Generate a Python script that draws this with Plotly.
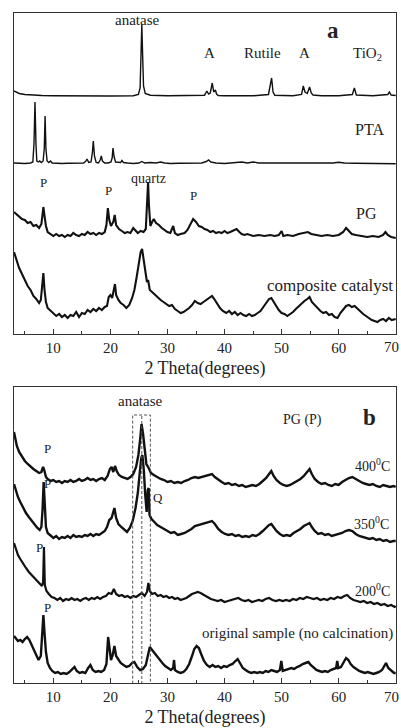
import plotly.graph_objects as go

# ---------------- Panel a data (2θ in degrees, intensity in a.u.) ----------------
tio2_x = [3.1, 3.5, 4, 5, 6, 8, 10, 15, 20, 24, 24.9, 25.2, 25.35, 25.5, 25.65, 25.8, 26.1, 27, 30, 35,
          36.5, 36.9, 37.2, 37.5, 37.85, 38.1, 38.4, 38.6, 38.9, 40, 45, 47.7, 48.0, 48.25, 48.5, 48.8,
          52, 53.5, 53.8, 54.1, 54.5, 54.9, 55.2, 55.5, 57, 60, 62.4, 62.75, 63.1, 66, 68.6, 68.9, 69.2, 70]
tio2_y = [5, 3.5, 2.5, 1.5, 1, 0.5, 0.3, 0, 0, 0.3, 1.5, 8, 40, 71, 40, 10, 2.5, 0.8, 0.3, 0.3,
          0.8, 5, 2, 3, 13, 4, 6, 2, 0.5, 0.2, 0.2, 1.5, 10, 18, 4, 0.8,
          0.3, 1.5, 10, 4, 2.5, 9, 3, 1, 0.3, 0.3, 1.5, 8, 1, 0.3, 1.5, 4, 1, 0.5]

pta_x = [3.1, 4, 5, 6, 6.4, 6.6, 6.78, 6.95, 7.1, 7.4, 7.6, 7.9, 8.2, 8.4, 8.55, 8.7, 8.9, 9.2, 9.5, 9.8,
         10.5, 11.5, 12.5, 13.5, 14.5, 15.3, 15.7, 15.9, 16.2, 16.6, 16.85, 17.0, 17.2, 17.5, 17.9, 18.2,
         18.4, 18.6, 19.0, 19.6, 20.1, 20.3, 20.45, 20.65, 20.9, 21.4, 21.8, 22.0, 22.3, 23, 24, 25, 25.5,
         26, 26.5, 27, 28, 28.8, 29.5, 30.5, 32, 34, 36, 36.8, 37.2, 37.6, 38.5, 40, 42, 43, 44, 45, 46,
         48, 50, 51, 53, 55, 57, 59, 60, 61, 63, 65, 67, 70]
pta_y = [1, 0.5, 0.5, 1, 2, 20, 62, 20, 3, 2, 3, 1.5, 3, 15, 48, 15, 3, 1.5, 3, 1,
         0.5, 0.5, 0.8, 1, 1.5, 1, 3, 5, 1.5, 2, 12, 23, 8, 1.5, 1, 4,
         8, 3, 1, 1, 2, 6, 16, 7, 2, 2, 1.5, 3.5, 1.5, 1, 0.5, 1, 2.5,
         1, 1.5, 1.5, 1, 2, 1, 0.5, 0.8, 1, 1, 2.5, 4, 2, 1, 0.5, 1, 2, 1, 2, 1,
         1, 1.5, 0.8, 1.5, 1.5, 1.5, 1, 1.8, 1, 0.8, 0.5, 0.5, 0.3]

pg_x = [3.1, 3.5, 4, 4.5, 5, 5.5, 6, 6.5, 7, 7.5, 7.9, 8.1, 8.25, 8.4, 8.7, 9.0, 9.5, 10, 10.5, 11, 11.5,
        12, 12.5, 13, 13.5, 14, 14.5, 15, 15.5, 16, 16.5, 17, 17.5, 18, 18.5, 19, 19.3, 19.55, 19.8, 20.1,
        20.5, 20.75, 21.0, 21.5, 22, 22.5, 23, 23.5, 24.0, 24.3, 24.8, 25.3, 25.8, 26.2, 26.45, 26.6, 26.75,
        27.0, 27.3, 27.6, 28.0, 28.5, 29, 29.5, 30, 30.5, 31.0, 31.3, 31.8, 32.3, 33, 33.5, 34, 34.5, 35,
        35.5, 36, 36.5, 37, 37.5, 38, 38.5, 39, 39.5, 40, 40.5, 41, 41.6, 42.1, 42.6, 43, 43.5, 44, 45, 46,
        47, 48, 48.8, 49.5, 50.0, 50.3, 51, 52, 53, 54, 54.6, 55.2, 56, 57, 58, 59, 60, 60.8, 61.3, 61.8,
        62.3, 63, 64, 65, 66, 67, 67.8, 68.2, 68.6, 69.2, 70]
pg_y = [28, 26, 24, 21, 20, 17, 18, 14, 15, 12, 16, 26, 33, 26, 14, 8, 6, 4, 6, 4, 5,
        3, 5, 4, 7, 5, 4, 6, 5, 8, 6, 7, 5, 7, 6, 8, 15, 32, 20, 14,
        18, 25, 15, 11, 9, 7, 8, 7, 12, 10, 7, 9, 8, 11, 40, 58, 35,
        14, 18, 21, 17, 15, 12, 10, 8, 7, 14, 7, 5, 6, 7, 10, 15, 21, 18,
        14, 13, 11, 10, 8, 9, 7, 8, 7, 9, 7, 8, 10, 11, 8, 6, 5, 6, 4, 5,
        4, 5, 4, 5, 9, 4, 5, 4, 6, 7, 8, 6, 5, 4, 5, 4, 5, 8, 12, 9,
        6, 5, 4, 3, 4, 3, 5, 8, 5, 3, 2]

cat_x = [3.1, 3.4, 3.7, 4, 4.5, 5, 5.5, 6, 6.5, 7, 7.5, 7.8, 8.05, 8.25, 8.45, 8.7, 9, 9.5, 10, 10.5, 11,
         11.5, 12, 12.5, 13, 13.5, 14, 14.5, 15, 15.5, 16, 16.5, 17, 17.5, 18, 18.5, 19, 19.4, 19.7, 20.0,
         20.3, 20.6, 20.8, 21.0, 21.4, 21.8, 22.3, 22.8, 23.3, 23.8, 24.2, 24.6, 25.0, 25.3, 25.55, 25.8,
         26.1, 26.4, 26.6, 26.9, 27.3, 27.8, 28.3, 28.8, 29.3, 29.8, 30.3, 30.8, 31.3, 31.8, 32.3, 32.8,
         33.3, 33.8, 34.3, 34.8, 35.3, 35.8, 36.3, 36.8, 37.3, 37.8, 38.2, 38.7, 39.2, 39.7, 40.3, 40.8,
         41.3, 41.8, 42.3, 42.8, 43.3, 43.8, 44.3, 44.8, 45.3, 45.8, 46.3, 46.8, 47.3, 47.8, 48.2, 48.6,
         49.0, 49.5, 50.0, 50.5, 51.0, 51.5, 52.0, 52.5, 53.0, 53.5, 54.0, 54.5, 54.9, 55.3, 55.8, 56.3,
         56.8, 57.3, 57.8, 58.3, 58.8, 59.3, 59.8, 60.3, 60.8, 61.3, 61.8, 62.3, 62.8, 63.3, 63.8, 64.3,
         64.8, 65.3, 65.8, 66.3, 66.8, 67.3, 67.8, 68.3, 68.8, 69.3, 70]
cat_y = [73, 67, 61, 57, 51, 45, 39, 35, 29, 26, 22, 25, 37, 52, 35, 23, 17, 14, 11, 9, 11,
         8, 10, 7, 10, 9, 13, 8, 12, 11, 15, 13, 16, 14, 17, 15, 18, 19, 28, 30,
         27, 35, 41, 30, 25, 22, 20, 17, 20, 27, 35, 48, 63, 73, 76, 67,
         53, 43, 45, 35, 33, 30, 28, 25, 23, 21, 19, 20, 16, 14, 12, 13,
         15, 17, 20, 24, 22, 21, 23, 25, 27, 29, 26, 21, 17, 14, 12, 14,
         11, 13, 10, 12, 10, 9, 11, 9, 10, 12, 14, 18, 22, 26, 27, 23,
         19, 15, 12, 11, 9, 11, 13, 16, 19, 22, 24, 26, 28, 23, 20, 16,
         14, 12, 13, 10, 11, 8, 7, 12, 16, 19, 20, 18, 19, 16, 14, 11,
         9, 7, 5, 4, 3, 5, 6, 4, 7, 5, 6]

# ---------------- Panel b data ----------------
t400_x = [3.1, 3.3, 3.6, 4, 4.5, 5, 5.5, 6, 6.5, 7, 7.5, 7.9, 8.2, 8.4, 8.7, 9, 9.5, 10, 10.5, 11, 11.5,
          12, 12.5, 13, 13.5, 14, 14.5, 15, 15.5, 16, 16.5, 17, 17.5, 18, 18.5, 19, 19.5, 19.9, 20.2, 20.5,
          20.8, 21.1, 21.5, 22, 22.5, 23, 23.5, 24, 24.5, 24.9, 25.2, 25.45, 25.7, 26.0, 26.3, 26.7, 27.1,
          27.6, 28.2, 28.8, 29.4, 30, 30.6, 31.2, 31.8, 32.4, 33, 33.6, 34.2, 34.8, 35.4, 36, 36.6, 37.2,
          37.8, 38.3, 38.9, 39.5, 40.1, 40.7, 41.3, 41.9, 42.5, 43.1, 43.7, 44.3, 44.9, 45.5, 46.1, 46.7,
          47.3, 47.8, 48.2, 48.6, 49.1, 49.7, 50.3, 50.9, 51.5, 52.1, 52.7, 53.3, 53.9, 54.5, 54.9, 55.3,
          55.8, 56.4, 57, 57.6, 58.2, 58.8, 59.4, 60, 60.6, 61.2, 61.8, 62.4, 63, 63.6, 64.2, 64.8, 65.4,
          66, 66.6, 67.2, 67.8, 68.4, 69, 69.6, 70]
t400_y = [58, 52, 44, 38, 33, 29, 26, 23, 21, 19, 17, 18, 23, 20, 13, 11, 9, 10, 8, 9, 7,
          9, 8, 10, 8, 9, 11, 9, 10, 12, 10, 11, 9, 11, 12, 10, 14, 21, 23, 18,
          24, 19, 15, 13, 12, 11, 13, 16, 23, 35, 50, 66, 57, 38, 26, 22, 17,
          15, 13, 11, 10, 8, 9, 7, 8, 7, 9, 10, 12, 13, 12, 13, 14, 15,
          16, 13, 10, 8, 6, 7, 5, 6, 4, 5, 3, 4, 5, 4, 6, 9,
          12, 16, 19, 14, 10, 7, 5, 4, 5, 7, 9, 11, 14, 18, 21, 16,
          11, 8, 6, 7, 5, 4, 6, 5, 8, 10, 12, 13, 11, 9, 7, 6, 5,
          6, 4, 3, 5, 4, 3, 4, 3]

t350_x = [3.1, 3.4, 3.8, 4.2, 4.7, 5.2, 5.7, 6.2, 6.7, 7.2, 7.6, 7.9, 8.1, 8.3, 8.5, 8.7, 9, 9.5, 10, 10.5,
          11, 11.5, 12, 12.5, 13, 13.5, 14, 14.5, 15, 15.5, 16, 16.5, 17, 17.5, 18, 18.5, 19, 19.4, 19.8,
          20.2, 20.5, 20.7, 21.0, 21.4, 21.9, 22.4, 22.9, 23.4, 23.9, 24.4, 24.8, 25.1, 25.4, 25.6, 25.85,
          26.1, 26.35, 26.55, 26.7, 26.85, 27.2, 27.7, 28.2, 28.8, 29.4, 30, 30.6, 31.2, 31.8, 32.4, 33,
          33.6, 34.2, 34.8, 35.4, 36, 36.6, 37.2, 37.8, 38.3, 38.9, 39.5, 40.1, 40.7, 41.3, 41.9, 42.5,
          43.1, 43.7, 44.3, 44.9, 45.5, 46.1, 46.7, 47.3, 47.8, 48.2, 48.6, 49.1, 49.7, 50.3, 50.9, 51.5,
          52.1, 52.7, 53.3, 53.9, 54.5, 54.9, 55.3, 55.8, 56.4, 57, 57.6, 58.2, 58.8, 59.4, 60, 60.6, 61.2,
          61.8, 62.4, 63, 63.6, 64.2, 64.8, 65.4, 66, 66.6, 67.2, 67.8, 68.4, 69, 69.6, 70]
t350_y = [61, 55, 48, 43, 37, 32, 28, 24, 20, 17, 15, 18, 35, 63, 40, 18, 12, 9, 7, 9,
          6, 8, 7, 9, 7, 10, 8, 9, 8, 10, 9, 11, 9, 11, 10, 12, 14, 18, 25,
          27, 33, 37, 27, 21, 18, 15, 13, 17, 24, 37, 52, 70, 87, 90, 75,
          50, 33, 55, 57, 30, 26, 23, 20, 18, 16, 14, 12, 13, 10, 11, 12,
          14, 16, 19, 20, 21, 22, 23, 24, 21, 16, 13, 11, 10, 11, 9, 10,
          8, 9, 8, 10, 9, 11, 14, 17, 20, 21, 18, 14, 11, 9, 10, 9,
          12, 14, 16, 19, 21, 22, 18, 14, 11, 12, 10, 11, 9, 10, 11, 12, 14,
          15, 14, 11, 9, 8, 7, 6, 7, 5, 6, 4, 5, 3, 4, 4]

t200_x = [3.1, 3.4, 3.8, 4.2, 4.7, 5.2, 5.7, 6.2, 6.7, 7.2, 7.6, 8.0, 8.2, 8.35, 8.5, 8.8, 9.2, 9.7, 10.2,
          10.7, 11.2, 11.7, 12.2, 12.7, 13.2, 13.7, 14.2, 14.7, 15.2, 15.7, 16.2, 16.7, 17.2, 17.7, 18.2,
          18.7, 19.2, 19.7, 20.2, 20.6, 21.0, 21.5, 22, 22.5, 23, 23.5, 24, 24.5, 25, 25.5, 26, 26.4, 26.65,
          26.9, 27.3, 27.8, 28.3, 28.8, 29.3, 29.8, 30.3, 30.8, 31.3, 31.8, 32.3, 32.8, 33.3, 33.8, 34.3,
          34.8, 35.3, 35.8, 36.4, 37, 37.6, 38.2, 38.8, 39.4, 40, 40.6, 41.2, 41.8, 42.4, 43, 43.6, 44.2,
          44.8, 45.4, 46, 46.6, 47.2, 47.8, 48.4, 49, 49.6, 50.2, 50.8, 51.4, 52, 52.6, 53.2, 53.8, 54.4,
          55, 55.6, 56.2, 56.8, 57.4, 58, 58.6, 59.2, 59.8, 60.4, 61, 61.5, 62, 62.6, 63.2, 63.8, 64.4, 65,
          65.6, 66.2, 66.8, 67.4, 68, 68.6, 69.2, 69.8, 70]
t200_y = [67, 61, 55, 51, 46, 42, 38, 35, 32, 29, 26, 24, 28, 63, 25, 19, 16, 13, 12,
          10, 12, 9, 11, 10, 12, 10, 11, 9, 11, 12, 10, 12, 11, 13, 11,
          13, 14, 17, 16, 21, 16, 14, 15, 13, 14, 12, 14, 13, 15, 17, 14, 18, 27,
          19, 16, 17, 14, 15, 13, 14, 12, 13, 11, 12, 10, 11, 12, 14, 16,
          17, 18, 17, 15, 13, 11, 10, 9, 10, 8, 9, 10, 11, 12, 10, 9, 10,
          8, 9, 10, 9, 11, 12, 10, 9, 10, 9, 10, 9, 11, 10, 12, 11, 13,
          12, 11, 12, 10, 11, 10, 12, 11, 13, 12, 14, 15, 12, 10, 9, 8, 9, 7,
          8, 6, 7, 5, 6, 4, 5, 3, 4]

orig_x = [3.1, 3.4, 3.8, 4.2, 4.6, 5.0, 5.4, 5.8, 6.2, 6.6, 7.0, 7.4, 7.8, 8.05, 8.25, 8.45, 8.7, 9.0, 9.4,
          9.8, 10.3, 10.8, 11.3, 11.8, 12.3, 12.8, 13.3, 13.7, 14.1, 14.6, 15.1, 15.6, 16.1, 16.5, 16.9,
          17.4, 17.9, 18.4, 18.9, 19.3, 19.6, 19.85, 20.1, 20.4, 20.7, 21.0, 21.4, 21.8, 22.3, 22.8, 23.3,
          23.8, 24.2, 24.7, 25.2, 25.7, 26.2, 26.6, 26.9, 27.3, 27.7, 28.1, 28.6, 29.1, 29.6, 30.1, 30.6,
          31.0, 31.15, 31.3, 31.8, 32.3, 32.8, 33.3, 33.8, 34.3, 34.7, 35.1, 35.5, 35.9, 36.4, 36.9, 37.4,
          37.9, 38.4, 38.9, 39.4, 39.9, 40.4, 40.9, 41.4, 41.9, 42.3, 42.7, 43.2, 43.7, 44.2, 44.7, 45.2,
          45.7, 46.2, 46.7, 47.2, 47.7, 48.2, 48.7, 49.2, 49.7, 49.95, 50.2, 50.7, 51.2, 51.7, 52.2, 52.7,
          53.2, 53.7, 54.2, 54.7, 55.1, 55.6, 56.1, 56.6, 57.1, 57.6, 58.1, 58.6, 59.1, 59.55, 59.75, 59.95,
          60.4, 60.9, 61.3, 61.7, 62.1, 62.6, 63.1, 63.6, 64.1, 64.6, 65.1, 65.6, 66.1, 66.6, 67.1, 67.6,
          68.0, 68.3, 68.7, 69.2, 69.7, 70]
orig_y = [42, 40, 37, 38, 36, 39, 41, 38, 33, 28, 23, 18, 22, 40, 63, 45, 26, 15, 10,
          7, 5, 6, 4, 5, 4, 6, 9, 11, 7, 5, 6, 5, 10, 13, 8,
          6, 7, 6, 8, 14, 41, 28, 18, 23, 32, 22, 18, 15, 13, 11, 12,
          15, 16, 11, 8, 9, 13, 23, 31, 28, 25, 23, 19, 15, 12, 10, 8,
          10, 18, 8, 6, 5, 6, 9, 14, 22, 29, 32, 30, 24, 17, 13, 11,
          13, 11, 12, 10, 12, 11, 13, 14, 17, 19, 15, 10, 8, 6, 5, 6,
          5, 6, 5, 7, 6, 8, 7, 6, 8, 17, 7, 8, 9, 10, 9, 11,
          12, 14, 15, 16, 13, 10, 8, 7, 6, 7, 6, 8, 9, 10, 17, 10,
          11, 16, 20, 18, 14, 11, 9, 7, 6, 5, 6, 5, 4, 5, 6, 8,
          12, 15, 10, 7, 5, 5]

tick_vals = [10, 20, 30, 40, 50, 60, 70]
tick_text = ["10", "20", "30", "40", "50", "60", ""]   # "70" sits at the page edge, drawn below
minor_vals = [5, 15, 25, 35, 45, 55, 65]

# stacking baselines (a.u.) and widths
a_series = [("TiO2", tio2_x, tio2_y, 238, 1.4), ("PTA", pta_x, pta_y, 170, 1.4),
            ("PG", pg_x, pg_y, 94, 2.1), ("composite catalyst", cat_x, cat_y, 9, 2.1)]
b_series = [("400", t400_x, t400_y, 193, 2.4), ("350", t350_x, t350_y, 138, 2.4),
            ("200", t200_x, t200_y, 73, 2.2), ("original", orig_x, orig_y, 5, 2.4)]

fig = go.Figure()
for name, xs, ys, off, w in a_series:
    fig.add_trace(go.Scatter(x=xs, y=[v + off for v in ys], mode="lines", name=name,
                             line=dict(color="#111111", width=w), xaxis="x", yaxis="y"))
for name, xs, ys, off, w in b_series:
    fig.add_trace(go.Scatter(x=xs, y=[v + off for v in ys], mode="lines", name=name,
                             line=dict(color="#111111", width=w), xaxis="x2", yaxis="y2"))

FONT = "Liberation Serif, Times New Roman, serif"
TXT = "#222222"
xcommon = dict(range=[3.1, 70.05], tickmode="array", tickvals=tick_vals, ticktext=tick_text,
               ticks="inside", ticklen=5, tickcolor="#333", showline=True, mirror=True,
               linecolor="#333", linewidth=1.3, showgrid=False, zeroline=False,
               tickfont=dict(family=FONT, size=15, color=TXT),
               minor=dict(tickvals=minor_vals, ticks="inside", ticklen=3, tickcolor="#333"),
               title=dict(text="2 Theta(degrees)", font=dict(family=FONT, size=18, color=TXT),
                          standoff=6))
ycommon = dict(showticklabels=False, ticks="", showline=True, mirror=True, linecolor="#333",
               linewidth=1.3, showgrid=False, zeroline=False)

fig.update_layout(
    width=401, height=728, margin=dict(l=0, r=0, t=0, b=0),
    paper_bgcolor="white", plot_bgcolor="white", showlegend=False, hovermode=False,
    xaxis=dict(domain=[14/401, 396/401], anchor="y", **xcommon),
    yaxis=dict(domain=[1-334/728, 1-13/728], range=[0, 321], anchor="x", **ycommon),
    xaxis2=dict(domain=[14/401, 396/401], anchor="y2", **xcommon),
    yaxis2=dict(domain=[1-683/728, 1-387/728], range=[0, 296], anchor="x2", **ycommon),
)

def ann(text, x, y, ax="x", ay="y", size=14, bold=False, xanchor="center"):
    fig.add_annotation(text=("<b>%s</b>" % text) if bold else text, x=x, y=y, xref=ax, yref=ay,
                       showarrow=False, xanchor=xanchor, yanchor="middle",
                       font=dict(family=FONT, size=size, color=TXT))

# "70" tick labels at the right page edge
ann("70", 1.0, 1 - 347/728, "paper", "paper", size=15, xanchor="right")
ann("70", 1.0, 1 - 697/728, "paper", "paper", size=15, xanchor="right")

# panel a labels
ann("anatase", 24.6, 314, size=15)
ann("A", 37.4, 281, size=15)
ann("Rutile", 46.7, 281, size=15)
ann("A", 54.1, 281, size=15)
ann("TiO<sub>2</sub>", 65.0, 280, size=15)
ann("a", 59.0, 304, size=23, bold=True)
ann("PTA", 65.4, 205, size=16)
ann("P", 8.2, 152, size=13)
ann("P", 19.6, 144, size=13)
ann("quartz", 26.6, 156, size=14)
ann("P", 34.5, 139, size=13)
ann("PG", 64.9, 121, size=16)
ann("composite catalyst", 58.4, 49, size=17)

# panel b labels
ann("anatase", 25.2, 282, "x2", "y2", size=15)
ann("PG (P)", 53.7, 263, "x2", "y2", size=14)
ann("b", 65.4, 266, "x2", "y2", size=23, bold=True)
ann("400<sup>0</sup>C", 66.0, 218, "x2", "y2", size=14)
ann("350<sup>0</sup>C", 65.8, 160, "x2", "y2", size=14)
ann("200<sup>0</sup>C", 66.0, 93, "x2", "y2", size=14)
ann("original sample (no calcination)", 52.8, 50, "x2", "y2", size=15)
ann("P", 8.9, 235, "x2", "y2", size=13)
ann("P", 8.9, 200, "x2", "y2", size=13)
ann("P", 7.6, 136, "x2", "y2", size=13)
ann("P", 8.9, 76, "x2", "y2", size=13)
ann("Q", 28.3, 186, "x2", "y2", size=13)

# dashed anatase window in panel b
dash = dict(color="#555", width=1, dash="3px,2px")
fig.add_shape(type="rect", x0=23.9, x1=27.0, y0=-1, y1=268, xref="x2", yref="y2", line=dash)
fig.add_shape(type="line", x0=25.5, x1=25.5, y0=-1, y1=268, xref="x2", yref="y2", line=dash)

fig.write_html("out.html")
